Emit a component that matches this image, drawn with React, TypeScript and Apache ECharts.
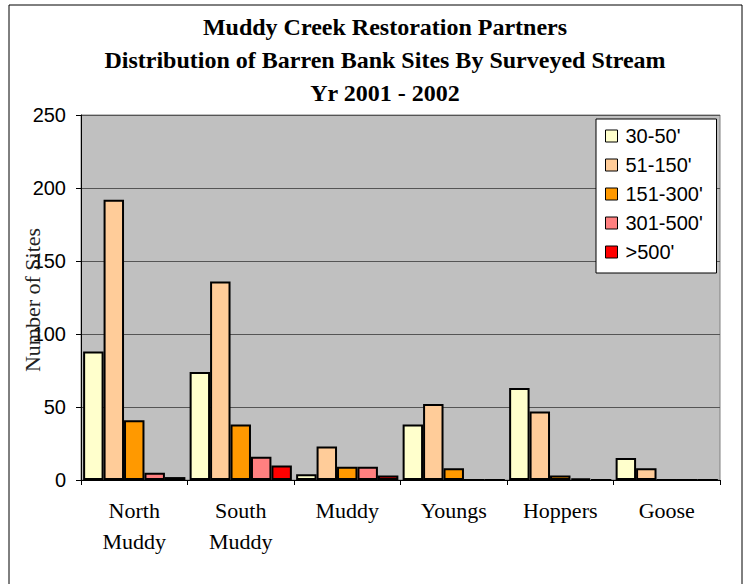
import React, { useEffect, useRef } from "react";
import * as echarts from "echarts";

const categories = ["North\nMuddy", "South\nMuddy", "Muddy", "Youngs", "Hoppers", "Goose"];
const seriesNames = ["30-50'", "51-150'", "151-300'", "301-500'", ">500'"];
const s30to50 = [88, 74, 4, 38, 63, 15];
const s51to150 = [192, 136, 23, 52, 47, 8];
const s151to300 = [41, 38, 9, 8, 3, 0];
const s301to500 = [5, 16, 9, 0, 1, 0];
const sOver500 = [2, 10, 3, 0, 0, 0];
const yTicks = { min: 0, max: 250, interval: 50 };
const titleLines = [
  "Muddy Creek Restoration Partners",
  "Distribution of Barren Bank Sites By Surveyed Stream",
  "Yr 2001 - 2002",
];
const yAxisName = "Number of Sites";

const colors = ["#FFFFCC", "#FFCC99", "#FF9900", "#FF8080", "#FF0000"];
const seriesData = [s30to50, s51to150, s151to300, s301to500, sOver500];

export default function App() {
  const ref = useRef<HTMLDivElement>(null);
  useEffect(() => {
    if (!ref.current) return;
    const chart = echarts.init(ref.current, null, { renderer: "svg" });
    chart.setOption({
      animation: false,
      backgroundColor: "#FFFFFF",
      title: {
        text: titleLines.join("\n"),
        left: 380,
        top: 5,
        textAlign: "center",
        textStyle: {
          fontFamily: "Liberation Serif",
          fontWeight: "bold",
          fontSize: 24,
          lineHeight: 33,
          color: "#000",
        },
      },
      graphic: [
        {
          type: "rect",
          shape: { x: 9, y: 5, width: 733, height: 600 },
          style: { fill: "none", stroke: "#000", lineWidth: 1 },
          silent: true,
        },
        {
          type: "text",
          x: 32,
          y: 300,
          rotation: Math.PI / 2,
          style: {
            text: yAxisName,
            fontFamily: "Liberation Serif",
            fontSize: 22,
            fill: "#222",
            align: "center",
            verticalAlign: "middle",
          },
          z: 10,
        },
      ],
      legend: {
        orient: "vertical",
        left: 596,
        top: 119,
        padding: [7, 4, 11, 9],
        itemGap: 9,
        itemWidth: 12,
        itemHeight: 12,
        icon: "rect",
        backgroundColor: "#FFFFFF",
        borderColor: "#000",
        borderWidth: 1,
        borderRadius: 0,
        itemStyle: { borderColor: "#000", borderWidth: 1 },
        textStyle: {
          fontFamily: "Liberation Sans",
          fontSize: 20,
          lineHeight: 20,
          color: "#000",
          width: 87,
          padding: [0, 0, 0, 3],
        },
        data: seriesNames,
      },
      grid: {
        left: 81,
        top: 115,
        width: 639,
        height: 365,
        show: true,
        backgroundColor: "#C0C0C0",
        borderColor: "#808080",
        borderWidth: 1,
      },
      xAxis: {
        type: "category",
        data: categories,
        axisLine: { lineStyle: { color: "#000", width: 1 } },
        axisTick: { show: true, length: 5, lineStyle: { color: "#000" } },
        axisLabel: {
          fontFamily: "Liberation Serif",
          fontSize: 22,
          lineHeight: 31,
          color: "#000",
          margin: 15,
          interval: 0,
        },
      },
      yAxis: {
        type: "value",
        min: yTicks.min,
        max: yTicks.max,
        interval: yTicks.interval,
        axisLine: { show: true, lineStyle: { color: "#000", width: 1 } },
        axisTick: { show: true, length: 5, lineStyle: { color: "#000" } },
        axisLabel: {
          fontFamily: "Liberation Sans",
          fontSize: 20,
          color: "#000",
          margin: 15,
        },
        splitLine: { show: true, lineStyle: { color: "#555", width: 1 } },
      },
      series: seriesNames.map((name, i) => ({
        name,
        type: "bar",
        data: seriesData[i],
        barGap: "0%",
        barCategoryGap: "4%",
        itemStyle: { color: colors[i], borderColor: "#000", borderWidth: 2 },
      })),
    });
    return () => chart.dispose();
  }, []);
  return (
    <div
      ref={ref}
      style={{ position: "absolute", left: 0, top: 0, width: 749, height: 584 }}
    />
  );
}
